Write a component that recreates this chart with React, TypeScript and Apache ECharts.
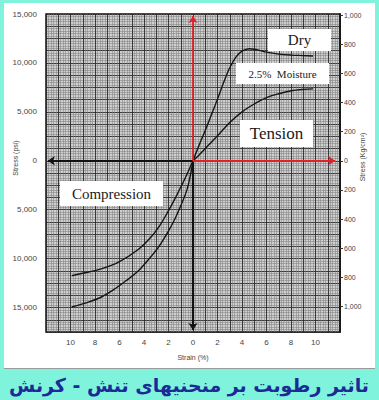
import React, { useEffect, useRef } from "react";
import * as echarts from "echarts";

const strainLabels = [-10, -8, -6, -4, -2, 0, 2, 4, 6, 8, 10];
const psiLabels = [-15000, -10000, -5000, 0, 5000, 10000, 15000];
const kgLabels = [-1000, -800, -600, -400, -200, 0, 200, 400, 600, 800, 1000];

const dryTensionStrain = [0, 0.5, 1, 1.5, 2, 2.5, 3, 3.5, 4, 4.6, 5, 6, 7, 8, 9, 9.8];
const dryTensionStress = [0, 1600, 3100, 4700, 6300, 8000, 9500, 10600, 11200, 11450, 11400, 11100, 10900, 10800, 10750, 10700];

const moistTensionStrain = [0, 0.5, 1, 1.5, 2, 3, 4, 5, 6, 7, 8, 9, 9.8];
const moistTensionStress = [0, 600, 1250, 1900, 2550, 3900, 5000, 5800, 6450, 6850, 7150, 7300, 7350];

const moistCompStrain = [0, -0.5, -1, -1.5, -2, -2.7, -3.5, -4.5, -6, -7.5, -9, -9.9];
const moistCompStress = [0, -1400, -2700, -3950, -5100, -6600, -7900, -9100, -10300, -11050, -11500, -11750];

const dryCompStrain = [0, -0.25, -0.5, -1, -1.5, -2.1, -2.8, -3.5, -4.5, -5.4, -6.5, -7.6, -8.8, -9.9];
const dryCompStress = [0, -1700, -3000, -4600, -6000, -7400, -8800, -9900, -11300, -12200, -13200, -14000, -14550, -14950];

const titleText = "تاثیر رطوبت بر منحنیهای تنش - کرنش";

export default function App() {
  const ref = useRef<HTMLDivElement>(null);
  useEffect(() => {
    const chart = echarts.init(ref.current!, null, { renderer: "svg" });
    const pairs = (xs: number[], ys: number[]) => xs.map((x, i) => [x, ys[i]]);
    const fmt = (v: number) => Math.abs(v).toLocaleString("en-US");
    const curve = (name: string, xs: number[], ys: number[]) => ({
      name,
      type: "line",
      data: pairs(xs, ys),
      showSymbol: false,
      smooth: 0.35,
      lineStyle: { color: "#151515", width: 1.4 },
      z: 4,
    });
    const box = (x: number, y: number, w: number, h: number, text: string, size: number) => ({
      type: "group",
      x,
      y,
      z: 100,
      children: [
        { type: "rect", shape: { x: 0, y: 0, width: w, height: h }, style: { fill: "#ffffff" }, z: 100 },
        {
          type: "text",
          x: w / 2,
          y: h / 2,
          z: 101,
          style: {
            text,
            fill: "#1a1a1a",
            fontSize: size,
            fontFamily: "Liberation Serif",
            align: "center",
            verticalAlign: "middle",
          },
        },
      ],
    });
    chart.setOption({
      animation: false,
      grid: {
        left: 46,
        right: 39,
        top: 14,
        bottom: 68,
        show: true,
        borderColor: "#111",
        borderWidth: 1.5,
        backgroundColor: "#cfcfcf",
      },
      xAxis: {
        type: "value",
        min: -12,
        max: 12,
        interval: 1,
        axisLine: { show: false },
        axisTick: { show: false },
        axisLabel: {
          customValues: strainLabels,
          formatter: (v: number) => String(Math.abs(v)),
          color: "#444",
          fontSize: 8,
          fontFamily: "Liberation Sans",
          margin: 6,
        },
        splitLine: { show: true, lineStyle: { color: "#2a2a2a", width: 0.9 } },
        minorTick: { show: false, splitNumber: 5 },
        minorSplitLine: { show: true, lineStyle: { color: "#7a7a7a", width: 0.5 } },
        name: "Strain (%)",
        nameLocation: "middle",
        nameGap: 22,
        nameTextStyle: { color: "#444", fontSize: 7, fontFamily: "Liberation Sans" },
      },
      yAxis: [
        {
          type: "value",
          min: -17500,
          max: 15000,
          interval: 1250,
          axisLine: { show: false },
          axisTick: { show: false },
          axisLabel: {
            customValues: psiLabels,
            formatter: fmt,
            color: "#444",
            fontSize: 8,
            fontFamily: "Liberation Sans",
            margin: 9,
          },
          splitLine: { show: true, lineStyle: { color: "#2a2a2a", width: 0.9 } },
          minorTick: { show: false, splitNumber: 5 },
          minorSplitLine: { show: true, lineStyle: { color: "#7a7a7a", width: 0.5 } },
        },
        {
          type: "value",
          position: "right",
          min: -1174,
          max: 1007,
          axisLine: { show: true, lineStyle: { color: "#111", width: 1.5 } },
          axisTick: { show: true, customValues: kgLabels, length: 3, lineStyle: { color: "#333" } },
          axisLabel: {
            customValues: kgLabels,
            formatter: fmt,
            color: "#444",
            fontSize: 7,
            fontFamily: "Liberation Sans",
            margin: 4,
          },
          splitLine: { show: false },
        },
      ],
      series: [
        curve("Dry (tension)", dryTensionStrain, dryTensionStress),
        curve("2.5% Moisture (tension)", moistTensionStrain, moistTensionStress),
        curve("2.5% Moisture (compression)", moistCompStrain, moistCompStress),
        curve("Dry (compression)", dryCompStrain, dryCompStress),
        {
          type: "lines",
          coordinateSystem: "cartesian2d",
          symbol: ["none", "arrow"],
          symbolSize: 7,
          lineStyle: { color: "#111", width: 2.2, opacity: 1 },
          data: [
            { coords: [[0, 0], [-11.85, 0]] },
            { coords: [[0, 0], [0, -17300]] },
          ],
          z: 5,
        },
        {
          type: "lines",
          coordinateSystem: "cartesian2d",
          symbol: ["none", "arrow"],
          symbolSize: 7,
          lineStyle: { color: "#e3202a", width: 1.8, opacity: 1 },
          data: [
            { coords: [[0, 0], [0, 14800]] },
            { coords: [[0, 0], [11.6, 0]] },
          ],
          z: 6,
        },
      ],
      graphic: [
        box(268, 29, 63, 22, "Dry", 15),
        box(236, 63, 93, 21, "2.5%  Moisture", 11),
        box(240, 120, 73, 27, "Tension", 17),
        box(60, 181, 103, 25, "Compression", 15),
        {
          type: "text",
          x: 15,
          y: 158,
          rotation: Math.PI / 2,
          style: {
            text: "Stress (psi)",
            fill: "#444",
            fontSize: 7,
            fontFamily: "Liberation Sans",
            align: "center",
            verticalAlign: "middle",
          },
        },
        {
          type: "text",
          x: 362,
          y: 157,
          rotation: Math.PI / 2,
          style: {
            text: "Stress (Kg/cm²)",
            fill: "#444",
            fontSize: 7,
            fontFamily: "Liberation Sans",
            align: "center",
            verticalAlign: "middle",
          },
        },
        {
          type: "text",
          x: 189,
          y: 385,
          style: {
            text: titleText,
            fill: "#1c2a96",
            fontSize: 19,
            fontWeight: "bold",
            fontFamily: "DejaVu Sans",
            align: "center",
            verticalAlign: "middle",
          },
        },
      ],
    });
    return () => chart.dispose();
  }, []);
  return (
    <div style={{ position: "fixed", left: 0, top: 0, width: 379, height: 400, background: "#7ff3dc" }}>
      <div
        style={{
          position: "absolute",
          left: 4,
          top: 3,
          width: 371,
          height: 366,
          background: "#ffffff",
          borderBottom: "1px solid #9a9a9a",
          boxSizing: "border-box",
        }}
      />
      <div ref={ref} style={{ position: "absolute", left: 0, top: 0, width: 379, height: 400 }} />
    </div>
  );
}
